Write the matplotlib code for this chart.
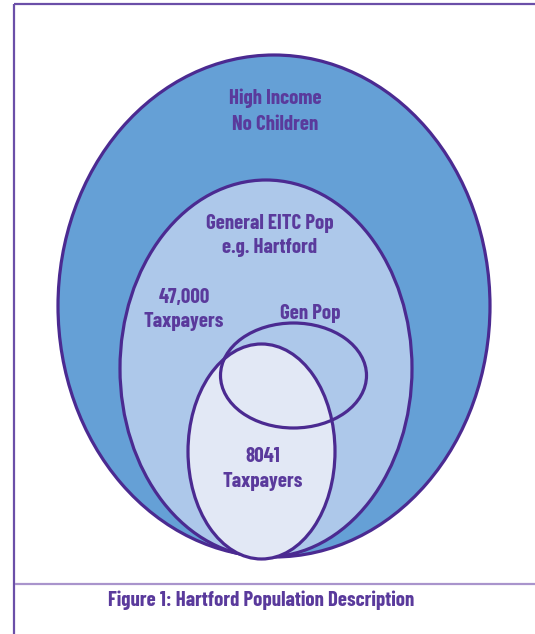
import matplotlib
matplotlib.use("Agg")
import matplotlib.pyplot as plt
from matplotlib.patches import Ellipse
from matplotlib import font_manager as fm
from matplotlib.textpath import TextPath

# ---- data ----
outer_label = ["High Income", "No Children"]
middle_label = ["General EITC Pop", "e.g. Hartford"]
genpop_label = ["Gen Pop"]
population_counts = ["47,000", "8041"]
count_unit = "Taxpayers"
caption = "Figure 1: Hartford Population Description"

# ---- pick the installed bold font whose proportions best match the reference ----
TARGET_RATIO = 76.0 / 14.0   # width of "Taxpayers" / cap height, from the reference
CAP_PX = 14.6
best = None
seen = set()
for f in fm.fontManager.ttflist:
    if f.fname in seen:
        continue
    seen.add(f.fname)
    n = (f.name + " " + f.fname).lower()
    if f.style != "normal" or "italic" in n or "mono" in n or "serif" in n.replace("sans", ""):
        continue
    w = f.weight if isinstance(f.weight, int) else 400
    if w < 600 or w > 800:
        continue
    if "cjk" in n or "math" in n or "display" in n:
        continue
    try:
        p = fm.FontProperties(fname=f.fname)
        tw = TextPath((0, 0), "Taxpayers", size=100, prop=p).get_extents().width
        ch = TextPath((0, 0), "H", size=100, prop=p).get_extents().height
    except Exception:
        continue
    if ch <= 0:
        continue
    score = abs(tw / ch - TARGET_RATIO) / TARGET_RATIO + abs(w - 700) / 300.0
    if best is None or score < best[0]:
        best = (score, p, ch)

if best is None:
    FP = fm.FontProperties(family="DejaVu Sans", weight="bold")
    ch = TextPath((0, 0), "H", size=100, prop=FP).get_extents().height
else:
    _, FP, ch = best
fs = CAP_PX * 100.0 / ch * 72.0 / 100.0

W, H = 535, 634
fig = plt.figure(figsize=(W / 100, H / 100), dpi=100)
ax = fig.add_axes([0, 0, 1, 1])
ax.set_xlim(0, W)
ax.set_ylim(H, 0)
ax.axis("off")

purple = "#4B2A91"
txt = "#5A3A9C"
lw = 2.3

# frame
ax.plot([14, 14], [4, H], color="#6B4FA8", lw=1.6, solid_capstyle="butt")
ax.plot([14, W], [4, 4], color="#6B4FA8", lw=1.6, solid_capstyle="butt")
ax.plot([15, W], [584, 584], color="#A994CC", lw=1.6, solid_capstyle="butt")

# ellipses
ax.add_patch(Ellipse((274, 306), 432, 502, facecolor="#65A0D6", edgecolor=purple, lw=lw, zorder=2))
ax.add_patch(Ellipse((266, 368.5), 292, 377, facecolor="#ADC8EA", edgecolor=purple, lw=lw, zorder=3))
ax.add_patch(Ellipse((261.5, 451.5), 147, 215, facecolor="#E2E8F5", edgecolor="none", zorder=4))
ax.add_patch(Ellipse((293.5, 375.5), 146, 105, facecolor="none", edgecolor=purple, lw=lw, zorder=5))
ax.add_patch(Ellipse((261.5, 451.5), 147, 215, facecolor="none", edgecolor=purple, lw=lw, zorder=6))

def put(x, y, s):
    ax.text(x, y, s, color=txt, fontproperties=FP, fontsize=fs,
            ha="center", va="baseline", zorder=10)

put(275.5, 104, outer_label[0]); put(275.5, 130, outer_label[1])
put(269.5, 229, middle_label[0]); put(269.5, 253, middle_label[1])
put(184, 303, population_counts[0]); put(184, 327, count_unit)
put(310, 319, genpop_label[0])
put(263, 462, population_counts[1]); put(263, 487, count_unit)
put(261.5, 606, caption)

fig.savefig("out.png", dpi=100)
